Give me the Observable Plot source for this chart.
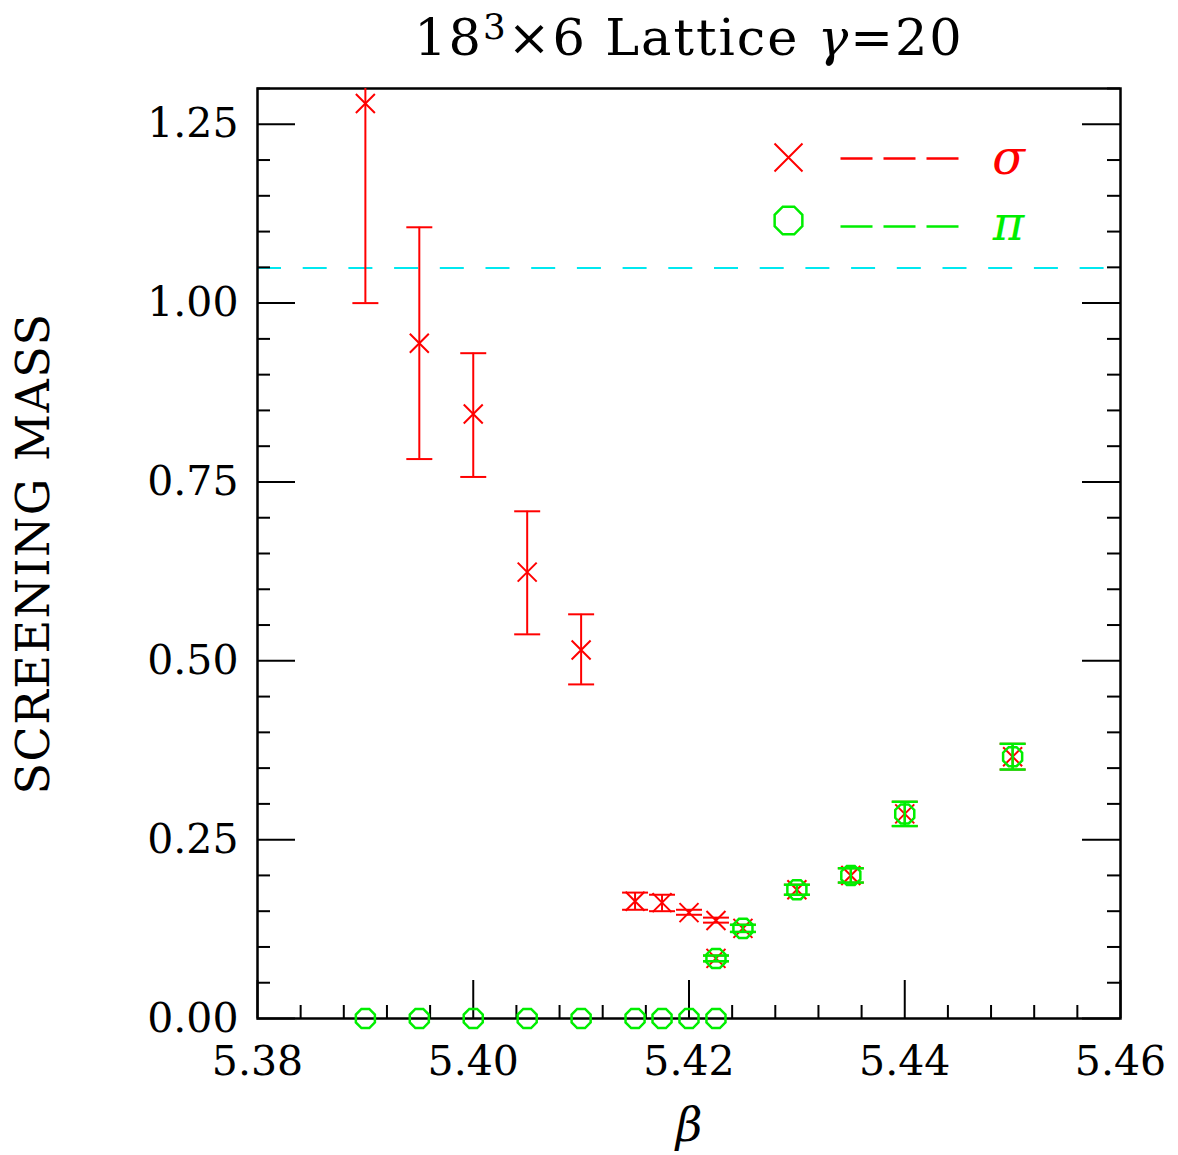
<!DOCTYPE html>
<html><head><meta charset="utf-8">
<script src="https://cdn.jsdelivr.net/npm/d3@7"></script>
<script src="https://cdn.jsdelivr.net/npm/@observablehq/plot@0.6"></script>
<style>body{margin:0;background:#fff} #chart svg{display:block}</style>
</head><body><div id="chart"></div>
<script>
// sigma screening mass
const sigmaBeta = [5.39, 5.395, 5.40, 5.405, 5.41, 5.415, 5.4175, 5.42, 5.4225, 5.4225, 5.425, 5.43, 5.435, 5.44, 5.45];
const sigmaMass = [1.279, 0.944, 0.845, 0.624, 0.515, 0.164, 0.162, 0.148, 0.137, 0.084, 0.126, 0.180, 0.200, 0.286, 0.366];
const sigmaLo   = [1.000, 0.782, 0.757, 0.537, 0.467, 0.152, 0.150, 0.145, 0.134, 0.080, 0.121, 0.173, 0.190, 0.269, 0.348];
const sigmaHi   = [1.556, 1.106, 0.930, 0.709, 0.565, 0.176, 0.173, 0.152, 0.141, 0.088, 0.131, 0.187, 0.210, 0.303, 0.384];
// pi screening mass
const piBeta = [5.39, 5.395, 5.40, 5.405, 5.41, 5.415, 5.4175, 5.42, 5.4225, 5.4225, 5.425, 5.43, 5.435, 5.44, 5.45];
const piMass = [0, 0, 0, 0, 0, 0, 0, 0, 0, 0.084, 0.126, 0.180, 0.200, 0.286, 0.366];
const piErr  = [0, 0, 0, 0, 0, 0, 0, 0, 0, 0.004, 0.005, 0.007, 0.010, 0.017, 0.018];
// reference line
const refMass = [1.049];
// ticks
const xMajor = [5.38, 5.40, 5.42, 5.44, 5.46];
const xMinor = d3.range(0, 21).map(i => +(5.38 + i * 0.004).toFixed(4)).filter(v => !xMajor.some(m => Math.abs(m - v) < 1e-9));
const yMajor = [0, 0.25, 0.5, 0.75, 1.0, 1.25];
const yMinor = d3.range(0, 27).map(i => +(i * 0.05).toFixed(2)).filter(v => !yMajor.some(m => Math.abs(m - v) < 1e-9));

const sigma = sigmaBeta.map((b, i) => ({beta: b, m: sigmaMass[i], lo: sigmaLo[i], hi: sigmaHi[i]}));
const pi = piBeta.map((b, i) => ({beta: b, m: piMass[i], lo: piMass[i] - piErr[i], hi: piMass[i] + piErr[i], e: piErr[i]}));
const piErrs = pi.filter(d => d.e > 0);

const W = 1178, H = 1155, ML = 257, MR = 58, MT = 88, MB = 137;
const FW = W - ML - MR, FH = H - MT - MB;
const RED = "#ff0000", GREEN = "#00ee00", CYAN = "#00e8f0";

const rOf = s => Math.sqrt(s / Math.PI);
const timesSym = {draw(c, s) { const r = rOf(s); c.moveTo(-r, -r); c.lineTo(r, r); c.moveTo(-r, r); c.lineTo(r, -r); }};
const octSym = {draw(c, s) { const r = rOf(s); for (let k = 0; k < 8; k++) { const a = Math.PI / 8 + k * Math.PI / 4; const px = r * Math.cos(a), py = r * Math.sin(a); k ? c.lineTo(px, py) : c.moveTo(px, py); } c.closePath(); }};
const capSym = {draw(c, s) { const r = rOf(s); c.moveTo(-r, 0); c.lineTo(r, 0); }};
const dashSym = {draw(c, s) { const L = 32, G = 11, x0 = -(3 * L + 2 * G) / 2; for (let k = 0; k < 3; k++) { c.moveTo(x0 + k * (L + G), 0); c.lineTo(x0 + k * (L + G) + L, 0); } }};

const chart = Plot.plot({
  width: W, height: H,
  marginLeft: ML, marginRight: MR, marginTop: MT, marginBottom: MB,
  style: {fontFamily: "DejaVu Serif", color: "black", background: "white"},
  x: {domain: [5.38, 5.46]},
  y: {domain: [0, 1.3]},
  marks: [
    Plot.ruleY(refMass, {stroke: CYAN, strokeWidth: 2, strokeDasharray: "24,21.7"}),
    // ticks
    Plot.tickY(yMajor, {y: d => d, insetRight: FW - 38, stroke: "black", strokeWidth: 2}),
    Plot.tickY(yMinor, {y: d => d, insetRight: FW - 13, stroke: "black", strokeWidth: 2}),
    Plot.tickY(yMajor, {y: d => d, insetLeft: FW - 38, stroke: "black", strokeWidth: 2}),
    Plot.tickY(yMinor, {y: d => d, insetLeft: FW - 13, stroke: "black", strokeWidth: 2}),
    Plot.tickX(xMajor, {x: d => d, insetTop: FH - 38, stroke: "black", strokeWidth: 2}),
    Plot.tickX(xMinor, {x: d => d, insetTop: FH - 13, stroke: "black", strokeWidth: 2}),
    Plot.frame({stroke: "black", strokeWidth: 2.5}),
    Plot.axisX({ticks: xMajor, tickSize: 0, tickPadding: 27, tickFormat: d3.format(".2f"), fontSize: 41, label: null}),
    Plot.axisY({ticks: yMajor, tickSize: 0, tickPadding: 19, tickFormat: d3.format(".2f"), fontSize: 41, label: null}),
    // sigma
    Plot.ruleX(sigma, {x: "beta", y1: "lo", y2: "hi", stroke: RED, strokeWidth: 2, clip: true}),
    Plot.dot(sigma, {x: "beta", y: "lo", symbol: capSym, r: 13, stroke: RED, fill: "none", strokeWidth: 2, clip: true}),
    Plot.dot(sigma, {x: "beta", y: "hi", symbol: capSym, r: 13, stroke: RED, fill: "none", strokeWidth: 2, clip: true}),
    Plot.dot(sigma, {x: "beta", y: "m", symbol: timesSym, r: 9.5, stroke: RED, fill: "none", strokeWidth: 2}),
    // pi
    Plot.ruleX(piErrs, {x: "beta", y1: "lo", y2: "hi", stroke: GREEN, strokeWidth: 2.5}),
    Plot.dot(piErrs, {x: "beta", y: "lo", symbol: capSym, r: 13, stroke: GREEN, fill: "none", strokeWidth: 2.5}),
    Plot.dot(piErrs, {x: "beta", y: "hi", symbol: capSym, r: 13, stroke: GREEN, fill: "none", strokeWidth: 2.5}),
    Plot.dot(pi, {x: "beta", y: "m", symbol: octSym, r: 10.3, stroke: GREEN, fill: "none", strokeWidth: 2.5}),
    // legend
    Plot.dot([0], {frameAnchor: "top-right", dx: -332, dy: 69, symbol: timesSym, r: 14, stroke: RED, fill: "none", strokeWidth: 2}),
    Plot.dot([0], {frameAnchor: "top-right", dx: -221, dy: 70, symbol: dashSym, r: 1, stroke: RED, fill: "none", strokeWidth: 2.5}),
    Plot.text(["σ"], {frameAnchor: "top-right", textAnchor: "middle", lineAnchor: "middle", dx: -112, dy: 70, fontSize: 48, fontStyle: "italic", fill: RED}),
    Plot.dot([0], {frameAnchor: "top-right", dx: -332, dy: 132, symbol: octSym, r: 15, stroke: GREEN, fill: "none", strokeWidth: 2.5}),
    Plot.dot([0], {frameAnchor: "top-right", dx: -221, dy: 138, symbol: dashSym, r: 1, stroke: GREEN, fill: "none", strokeWidth: 2.5}),
    Plot.text(["π"], {frameAnchor: "top-right", textAnchor: "middle", lineAnchor: "middle", dx: -112, dy: 136, fontSize: 48, fontStyle: "italic", fill: GREEN}),
    // title & labels
    Plot.text(["TITLE"], {frameAnchor: "top", textAnchor: "middle", lineAnchor: "middle", dy: -50, fontSize: 51}),
    Plot.text(["SCREENING MASS"], {frameAnchor: "left", textAnchor: "middle", lineAnchor: "middle", dx: -223, dy: 0, rotate: -90, fontSize: 46}),
    Plot.text(["β"], {frameAnchor: "bottom", textAnchor: "middle", lineAnchor: "middle", dx: 0, dy: 108, fontSize: 46, fontStyle: "italic"})
  ]
});
document.getElementById("chart").appendChild(chart);

const svg = d3.select(chart);
svg.selectAll("text").filter(function() { return this.textContent === "TITLE"; }).each(function() {
  const t = d3.select(this); t.text("");
  t.append("tspan").text("18");
  t.append("tspan").attr("dy", "-0.45em").attr("font-size", "0.7em").text("3");
  t.append("tspan").attr("dy", "0.315em").text("×6 Lattice ");
  t.append("tspan").attr("font-style", "italic").text("γ");
  t.append("tspan").text("=20");
  t.attr("letter-spacing", "2px");
});
svg.selectAll("text").filter(function() { return this.textContent === "SCREENING MASS"; }).attr("letter-spacing", "1.5px");
</script></body></html>
